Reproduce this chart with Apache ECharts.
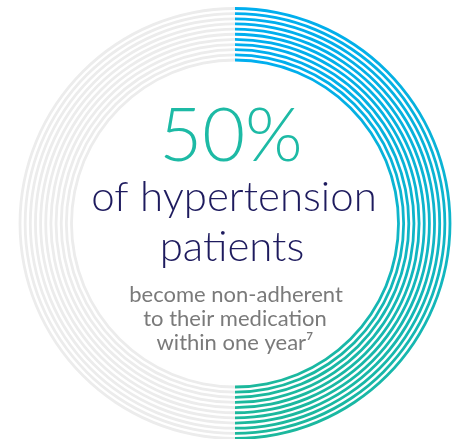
<!DOCTYPE html>
<html>
<head>
<meta charset="utf-8">
<style>
  html, body { margin: 0; padding: 0; background: #ffffff; }
  #chart { width: 458px; height: 439px; }
</style>
<script src="https://cdn.jsdelivr.net/npm/echarts@6/dist/echarts.min.js"></script>
</head>
<body>
<div id="chart"></div>
<script>
// Data
const categories = ['Non-adherent', 'Adherent'];
const shareValues = [50, 50];
const ringCount = 11;
const headline = '50%';
const subtitleLines = ['of hypertension', 'patients'];
const noteLines = ['become non-adherent', 'to their medication', 'within one year\u2077'];

const chart = echarts.init(document.getElementById('chart'), null, { renderer: 'canvas' });

const cx = 235, cy = 223.5;
const outerR = 215, innerR = 163.5;
const step = (outerR - innerR) / (ringCount - 1);
const halfW = 1.4;

const grad = new echarts.graphic.LinearGradient(0, 0, 0, 1, [
  { offset: 0, color: '#00aeef' },
  { offset: 0.5, color: '#0fb5c9' },
  { offset: 1, color: '#1cb89c' }
]);

const series = [];
for (let i = 0; i < ringCount; i++) {
  const r = innerR + i * step;
  series.push({
    type: 'pie',
    center: [cx, cy],
    radius: [r - halfW, r + halfW],
    startAngle: 90,
    clockwise: true,
    silent: true,
    animation: false,
    avoidLabelOverlap: false,
    label: { show: false },
    labelLine: { show: false },
    emphasis: { disabled: true },
    itemStyle: { borderWidth: 0 },
    data: categories.map((c, k) => ({
      name: c,
      value: shareValues[k],
      itemStyle: { color: k === 0 ? grad : '#ececec' }
    }))
  });
}

const fontFam = 'Lato, "Open Sans", sans-serif';
function txt(text, x, y, font, fill) {
  return { type: 'text', x: x, y: y, style: { text: text, font: font, fill: fill, textAlign: 'center', textVerticalAlign: 'top' } };
}
chart.setOption({
  animation: false,
  series: series,
  graphic: [
    txt(headline, 231, 100, '300 74px ' + fontFam, '#1dbaa5'),
    txt(subtitleLines[0], 234, 176, '300 42px ' + fontFam, '#1e1b5e'),
    txt(subtitleLines[1], 232, 226, '300 42px ' + fontFam, '#1e1b5e'),
    txt(noteLines[0], 236, 284, '400 22px ' + fontFam, '#7a7a7a'),
    txt(noteLines[1], 235, 308, '400 22px ' + fontFam, '#7a7a7a'),
    txt(noteLines[2], 235, 332, '400 22px ' + fontFam, '#7a7a7a')
  ]
});
</script>
</body>
</html>
